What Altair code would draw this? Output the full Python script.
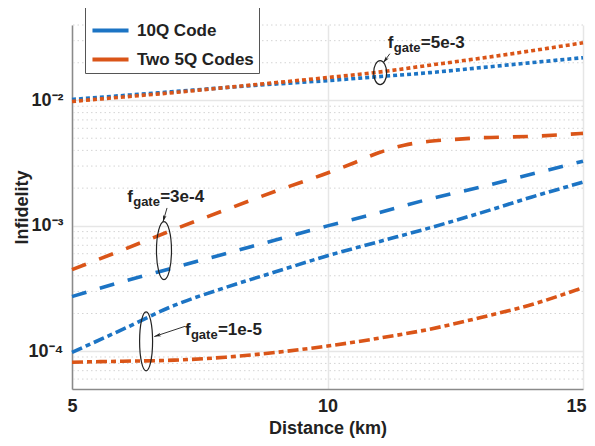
import altair as alt
import pandas as pd

# ---------------- data ----------------
km = [5, 6, 7, 8, 9, 10, 11, 12, 13, 14, 15]
km_two5_3e4 = [5, 6, 7, 8, 9, 10, 10.5, 11, 11.5, 12, 12.5, 13, 14, 15]

q10_5e3 = [1.019e-2, 1.096e-2, 1.178e-2, 1.267e-2, 1.355e-2, 1.441e-2, 1.550e-2, 1.667e-2, 1.828e-2, 2.004e-2, 2.195e-2]
two5_5e3 = [9.82e-3, 1.066e-2, 1.157e-2, 1.268e-2, 1.390e-2, 1.524e-2, 1.683e-2, 1.913e-2, 2.174e-2, 2.494e-2, 2.886e-2]
q10_3e4 = [2.73e-4, 3.60e-4, 4.65e-4, 6.00e-4, 7.75e-4, 1.0e-3, 1.27e-3, 1.64e-3, 2.04e-3, 2.59e-3, 3.28e-3]
two5_3e4 = [4.48e-4, 6.45e-4, 9.37e-4, 1.34e-3, 1.90e-3, 2.64e-3, 3.16e-3, 3.83e-3, 4.40e-3, 4.73e-3, 4.90e-3, 5.04e-3, 5.18e-3, 5.47e-3]
q10_1e5 = [9.8e-5, 1.50e-4, 2.32e-4, 3.22e-4, 4.32e-4, 5.78e-4, 7.47e-4, 9.64e-4, 1.27e-3, 1.70e-3, 2.23e-3]
two5_1e5 = [8.18e-5, 8.33e-5, 8.49e-5, 8.96e-5, 9.8e-5, 1.10e-4, 1.27e-4, 1.50e-4, 1.86e-4, 2.36e-4, 3.22e-4]

codes = ["10Q Code", "Two 5Q Codes"]
gates = ["5e-3", "3e-4", "1e-5"]

x_ticks = [5, 10, 15]
y_ticks = [1e-4, 1e-3, 1e-2]
y_tick_labels = ["10\u207b\u2074", "10\u207b\u00b3", "10\u207b\u00b2"]

# annotation anchors (km, infidelity)
ann_gate = ["5e-3", "3e-4", "1e-5"]
ann_text_km = [11.18, 6.08, 7.21]
ann_text_val = [2.64e-2, 1.55e-3, 1.36e-4]
ann_ell_km = [11.03, 6.80, 6.45]
ann_ell_val = [1.667e-2, 6.34e-4, 1.2e-4]
arrow_start_km = [11.22, 6.86, 7.21]
arrow_start_val = [2.36e-2, 1.39e-3, 1.58e-4]
arrow_end_km = [11.09, 6.78, 6.61]
arrow_end_val = [2.0e-2, 1.076e-3, 1.31e-4]

# ---------------- tables ----------------
series = [
    ("10Q Code", "5e-3", km, q10_5e3),
    ("Two 5Q Codes", "5e-3", km, two5_5e3),
    ("10Q Code", "3e-4", km, q10_3e4),
    ("Two 5Q Codes", "3e-4", km_two5_3e4, two5_3e4),
    ("10Q Code", "1e-5", km, q10_1e5),
    ("Two 5Q Codes", "1e-5", km, two5_1e5),
]
rows = []
for code, gate, xs, ys in series:
    for x, y in zip(xs, ys):
        rows.append({"km": x, "val": y, "code": code, "gate": gate, "sid": code + gate})
df = pd.DataFrame(rows)

minor = []
for e in [-5, -4, -3, -2]:
    for m in range(2, 10):
        v = m * 10.0 ** e
        if 5.01e-5 <= v <= 4e-2:
            minor.append({"val": v})
minor_df = pd.DataFrame(minor)

text_df = pd.DataFrame({"km": ann_text_km, "val": ann_text_val, "rest": ["=" + g for g in ann_gate]})
arrow_rows = []
for i in range(3):
    arrow_rows.append({"km": arrow_start_km[i], "val": arrow_start_val[i], "aid": i, "o": 0})
    arrow_rows.append({"km": arrow_end_km[i], "val": arrow_end_val[i], "aid": i, "o": 1})
arrow_df = pd.DataFrame(arrow_rows)

BLUE = "#1C74C4"
ORANGE = "#DA5518"
FONT = "Liberation Sans"

label_expr = " : ".join(
    f"datum.value < {v * 3:.6g} ? '{t}'" for v, t in zip(y_ticks, y_tick_labels)
) + " : ''"

xscale = alt.Scale(domain=[5, 15], nice=False, zero=False)
yscale = alt.Scale(type="log", domain=[5e-5, 4e-2], nice=False)

minor_layer = alt.Chart(minor_df).mark_rule(
    color="#d4d4d4", strokeWidth=1, strokeDash=[1.5, 3]
).encode(y=alt.Y("val:Q", scale=yscale))

lines = alt.Chart(df).mark_line(strokeWidth=3.6, interpolate="monotone").encode(
    x=alt.X("km:Q", scale=xscale, title="Distance (km)",
            axis=alt.Axis(values=x_ticks, format="d", grid=True, ticks=False,
                          labelFlush=False, labelPadding=8, titlePadding=4,
                          labelOffset={"condition": {"test": f"datum.value == {x_ticks[-1]}",
                                                     "value": -7}, "value": 0})),
    y=alt.Y("val:Q", scale=yscale, title="Infidelity",
            axis=alt.Axis(values=y_ticks, labelExpr=label_expr, grid=True, ticks=False,
                          labelFlush=False, labelPadding=9,
                          titleX=-41, titleY=182, titleAlign="center",
                          titleBaseline="bottom", titleAngle=270)),
    color=alt.Color("code:N", scale=alt.Scale(domain=codes, range=[BLUE, ORANGE]),
                    legend=alt.Legend(title=None, orient="none", legendX=13, legendY=-20,
                                      symbolType="stroke", symbolStrokeWidth=4,
                                      symbolSize=1300, labelFontSize=17,
                                      labelFont=FONT, labelFontWeight="bold",
                                      labelColor="#222", labelOffset=6,
                                      padding=5, rowPadding=0,
                                      fillColor="white", strokeColor="#555")),
    strokeDash=alt.StrokeDash("gate:N", scale=alt.Scale(
        domain=gates, range=[[4, 3], [15, 14], [11, 4, 5, 4]]), legend=None),
    detail="sid:N",
)

ellipse_layers = []
ell_dims = [(13, 24), (15, 58), (13, 59)]
for i, (w, h) in enumerate(ell_dims):
    rx = w / h
    path = f"M0,-1 A{rx:.3f},1 0 1,1 0,1 A{rx:.3f},1 0 1,1 0,-1 Z"
    edf = pd.DataFrame({"km": [ann_ell_km[i]], "val": [ann_ell_val[i]]})
    ellipse_layers.append(
        alt.Chart(edf).mark_point(shape=path, size=h * h, filled=False,
                                  stroke="#222", strokeWidth=1.2, opacity=1)
        .encode(x="km:Q", y="val:Q")
    )

arrow_lines = alt.Chart(arrow_df).mark_line(color="#333", strokeWidth=1).encode(
    x="km:Q", y="val:Q", detail="aid:N", order="o:Q")

head_angles = [218, 196, 252]
head_layers = []
for i, a in enumerate(head_angles):
    hdf = pd.DataFrame({"km": [arrow_end_km[i]], "val": [arrow_end_val[i]]})
    head_layers.append(
        alt.Chart(hdf).mark_point(shape="M0,0 L0.45,1.7 L0,1.25 L-0.45,1.7 Z", size=64,
                                  filled=True, color="#222", angle=a, opacity=1)
        .encode(x="km:Q", y="val:Q")
    )

t_f = alt.Chart(text_df).mark_text(text="f", font=FONT, fontWeight="bold", fontSize=17,
                                   align="left", baseline="alphabetic", color="#222"
                                   ).encode(x="km:Q", y="val:Q")
t_sub = alt.Chart(text_df).mark_text(text="gate", font=FONT, fontWeight="bold", fontSize=13,
                                     align="left", baseline="alphabetic", color="#222",
                                     dx=6, dy=4).encode(x="km:Q", y="val:Q")
t_rest = alt.Chart(text_df).mark_text(font=FONT, fontWeight="bold", fontSize=17,
                                      align="left", baseline="alphabetic", color="#222",
                                      dx=33).encode(x="km:Q", y="val:Q", text="rest:N")

chart = alt.layer(minor_layer, lines, *ellipse_layers, arrow_lines, *head_layers,
                  t_f, t_sub, t_rest).properties(
    width=511, height=364, autosize="none",
    padding={"left": 64, "top": 17, "right": 4, "bottom": 49},
).configure_view(strokeWidth=0).configure_axis(
    labelFont=FONT, labelFontWeight="bold", labelFontSize=18, labelColor="#222",
    titleFont=FONT, titleFontWeight="bold", titleFontSize=18, titleColor="#222",
    domainColor="#8a8a8a", domainWidth=1.5, gridColor="#e6e6e6", gridWidth=1.5,
)

chart.save("out.html", embed_options={"renderer": "svg", "actions": False})
